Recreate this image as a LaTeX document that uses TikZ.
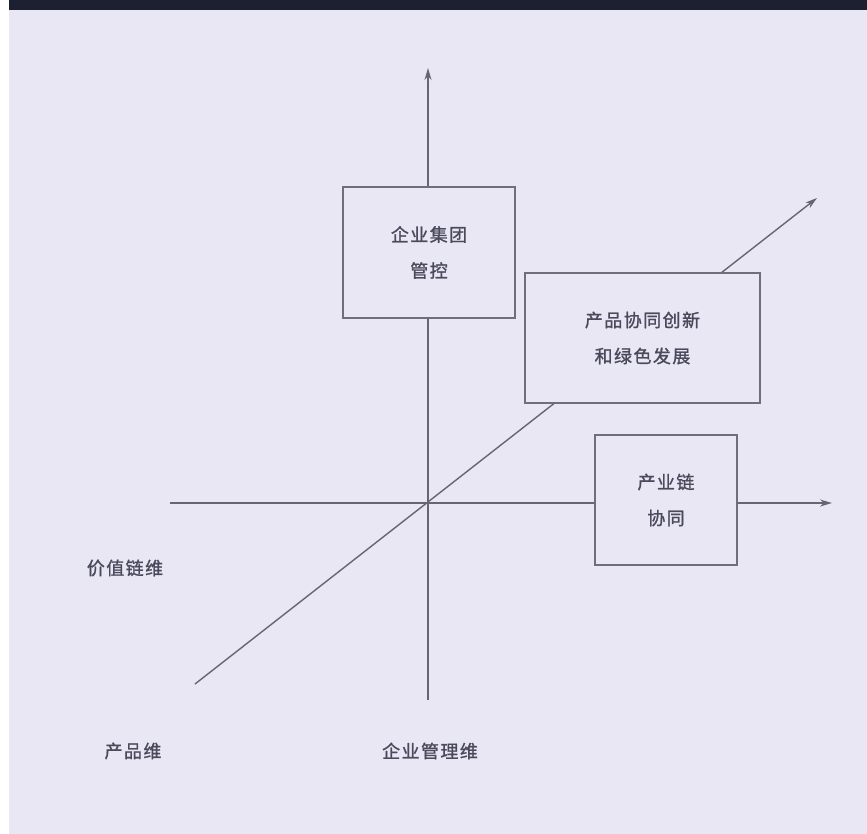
\documentclass[tikz,border=0pt]{standalone}
\usepackage{fontspec}
\newfontfamily\cjk[LetterSpace=8,FakeBold=1.2]{Noto Sans CJK SC}
\usetikzlibrary{arrows.meta}
\definecolor{bg}{HTML}{E9E7F4}
\definecolor{ink}{HTML}{4A4A5C}
\definecolor{band}{HTML}{1D2030}
\tikzset{
  axis/.style={draw=ink!85, line width=1.4pt, -{Stealth[length=12pt,width=7pt]}},
  boxnode/.style={draw=ink!80, line width=1.6pt, fill=bg, align=center, font=\cjk\fontsize{18}{36}\selectfont, text=ink, inner sep=0pt},
  lbl/.style={font=\cjk\fontsize{18}{20}\selectfont, text=ink}
}
\begin{document}
\begin{tikzpicture}[x=1pt,y=-1pt]
\useasboundingbox (0,0) rectangle (867,834);
\fill[white] (0,0) rectangle (867,834);
\fill[bg] (9,0) rectangle (867,834);
\fill[band] (9,0) rectangle (867,10);
% axes
\coordinate (o) at (428,503);
\coordinate (vb) at (428,700);
\coordinate (vt) at (428,68);
\coordinate (hl) at (170,503);
\coordinate (hr) at (832,503);
\coordinate (db) at (195,684);
\coordinate (dt) at (817,198);
\draw[axis] (vb) -- (vt);
\draw[axis] (hl) -- (hr);
\draw[axis] (db) -- (dt);
% boxes
\node[boxnode, minimum width=172pt, minimum height=131pt] (b1) at (429,252.5) {企业集团\\管控};
\node[boxnode, minimum width=235pt, minimum height=130pt] (b2) at (642.5,338) {产品协同创新\\和绿色发展};
\node[boxnode, minimum width=142pt, minimum height=130pt] (b3) at (666,500) {产业链\\协同};
% labels
\node[lbl] (l1) at (125,568) {价值链维};
\node[lbl] (l2) at (133,751) {产品维};
\node[lbl] (l3) at (430,751) {企业管理维};
\end{tikzpicture}
\end{document}
